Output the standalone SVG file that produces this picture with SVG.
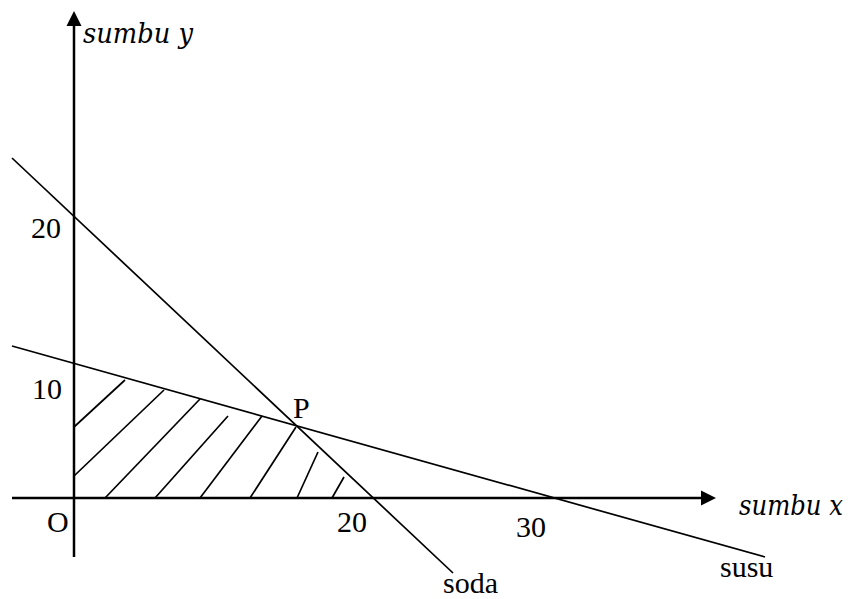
<svg xmlns="http://www.w3.org/2000/svg" width="853" height="599" viewBox="0 0 853 599">
<style>
.axis{stroke:#000;stroke-width:2.5;fill:none}
.ln{stroke:#000;stroke-width:1.7;fill:none}
.hatch{stroke:#000;stroke-width:1.7;fill:none}
.lbl{font-family:"Liberation Serif","Times New Roman",serif;font-size:30px;fill:#000}
.ax{font-family:"DejaVu Serif",serif;font-style:italic;font-size:27px;fill:#000}
</style>
<rect width="853" height="599" fill="#fff"/>
<g id="axes">
<line class="axis" x1="74" y1="557" x2="74" y2="22"/>
<polygon points="74,11 66.5,26 81.5,26" fill="#000"/>
<line class="axis" x1="12" y1="498" x2="704" y2="498"/>
<polygon points="716,498 701,490.5 701,505.5" fill="#000"/>
</g>
<g id="connectors">
<line id="susu-line" class="ln" x1="12" y1="346" x2="765" y2="557"/>
<line id="soda-line" class="ln" x1="12" y1="158" x2="453" y2="573"/>
</g>
<g id="hatching">
<line class="hatch" x1="74" y1="427" x2="125" y2="380"/>
<line class="hatch" x1="74" y1="476" x2="164" y2="390"/>
<line class="hatch" x1="105" y1="498" x2="200" y2="399"/>
<line class="hatch" x1="155" y1="498" x2="228" y2="416"/>
<line class="hatch" x1="200" y1="498" x2="262" y2="416"/>
<line class="hatch" x1="250" y1="498" x2="296" y2="427"/>
<line class="hatch" x1="297" y1="498" x2="318" y2="452"/>
<line class="hatch" x1="332" y1="498" x2="344" y2="477"/>
</g>
<g id="labels">
<text class="ax" x="83" y="43" textLength="110" lengthAdjust="spacingAndGlyphs">sumbu y</text>
<text class="ax" x="739" y="515" textLength="104" lengthAdjust="spacingAndGlyphs">sumbu x</text>
<text class="lbl" x="31" y="238">20</text>
<text class="lbl" x="32" y="399">10</text>
<text class="lbl" x="47" y="532">O</text>
<text class="lbl" x="293" y="418">P</text>
<text class="lbl" x="337" y="532">20</text>
<text class="lbl" x="516" y="537">30</text>
<text class="lbl" x="720" y="577">susu</text>
<text class="lbl" x="443" y="593">soda</text>
</g>
</svg>
